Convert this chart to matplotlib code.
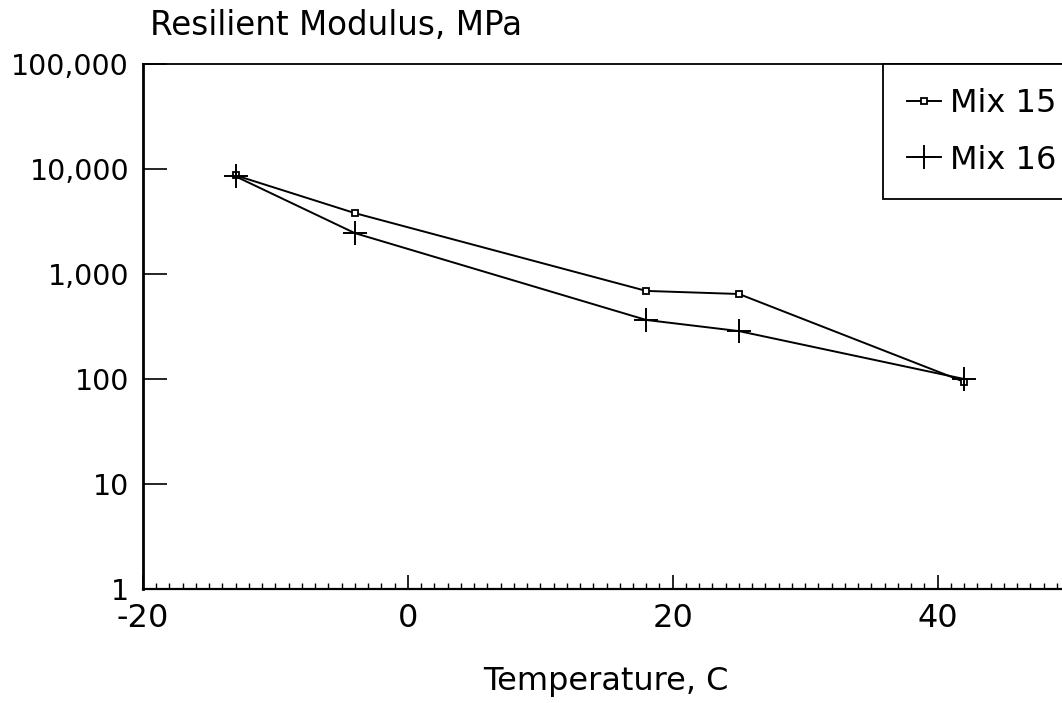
import matplotlib
matplotlib.use('Agg')
import matplotlib.pyplot as plt
from matplotlib.ticker import FixedLocator, MultipleLocator, FuncFormatter

plt.rc('font', family=['DejaVu Sans'])

temps15 = [-13, -4, 18, 25, 42]
mix15 = [8700, 3800, 690, 645, 94]
temps16 = [-13, -4, 18, 25, 42]
mix16 = [8500, 2450, 365, 286, 100]

yticks = [1, 10, 100, 1000, 10000, 100000]
xticks = [-20, 0, 20, 40]

fig = plt.figure(figsize=(10.62, 7.03), dpi=100)
ax = fig.add_axes([143/1062, 114/703, 927/1062, 525/703])

ax.plot(temps15, mix15, color='black', lw=1.4, marker='s', ms=5,
        mfc='white', mec='black', mew=1.3, label='Mix 15')
ax.plot(temps16, mix16, color='black', lw=1.4, marker='+', ms=17,
        mew=1.4, label='Mix 16')

ax.set_yscale('log')
ax.set_ylim(1, 100000)
ax.set_xlim(-20, 50)
ax.yaxis.set_major_locator(FixedLocator(yticks))
ax.yaxis.set_minor_locator(FixedLocator([]))
ax.yaxis.set_major_formatter(FuncFormatter(lambda v, p: '{:,.0f}'.format(v)))
ax.xaxis.set_major_locator(FixedLocator(xticks))
ax.xaxis.set_minor_locator(MultipleLocator(1))
ax.xaxis.set_major_formatter(FuncFormatter(lambda v, p: '{:.0f}'.format(v)))

ax.tick_params(axis='y', which='major', direction='in', length=17, width=1.2,
               labelsize=20.5, pad=10)
ax.tick_params(axis='x', which='major', direction='in', length=10, width=1.2,
               labelsize=23, pad=10)
ax.tick_params(axis='x', which='minor', direction='in', length=4, width=1)

for s in ax.spines.values():
    s.set_linewidth(1.3)
ax.spines['left'].set_linewidth(2)
ax.spines['bottom'].set_linewidth(1.6)

fig.text(150/1062, 1 - 35/703, 'Resilient Modulus, MPa', fontsize=23.5,
         ha='left', va='baseline')
fig.text(606/1062, 1 - 690/703, 'Temperature, C', fontsize=23,
         ha='center', va='baseline')

leg = fig.legend(loc='upper left', bbox_to_anchor=(883/1062, 1 - 64/703),
                 fontsize=23, frameon=True, fancybox=False, handlelength=1.05,
                 handletextpad=0.3, borderpad=0.75, labelspacing=0.8,
                 borderaxespad=0, framealpha=1)
leg.get_frame().set_edgecolor('black')
leg.get_frame().set_linewidth(1.3)

fig.savefig('out.png', dpi=100)
